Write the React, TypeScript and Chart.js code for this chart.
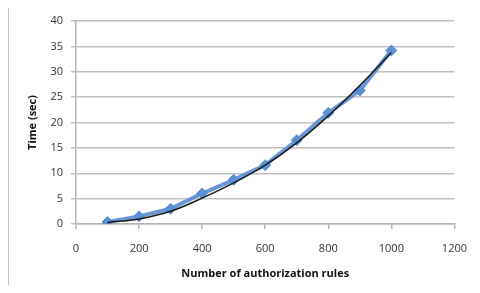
import React, { useEffect, useRef } from "react";
import { Chart, registerables } from "chart.js";

Chart.register(...registerables);

const rules = [100, 200, 300, 400, 500, 600, 700, 800, 900, 1000];
const timeSec = [0.4, 1.5, 3.0, 6.0, 8.7, 11.6, 16.5, 21.9, 26.3, 34.2];
const trendSec = [0.3, 1.0, 2.5, 5.1, 8.1, 11.6, 16.0, 21.3, 27.3, 33.8];
const xTitle = "Number of authorization rules";
const yTitle = "Time (sec)";

const framePlugin = {
  id: "frame",
  afterDraw(chart: any) {
    const ctx = chart.ctx;
    ctx.save();
    ctx.strokeStyle = "#c4c4c4";
    ctx.lineWidth = 2;
    ctx.beginPath();
    ctx.moveTo(8, 300);
    ctx.lineTo(8, 7);
    ctx.lineTo(490, 7);
    ctx.stroke();
    ctx.restore();
  },
};

export default function App() {
  const ref = useRef<HTMLCanvasElement | null>(null);
  useEffect(() => {
    if (!ref.current) return;
    const font = { family: "'Open Sans', 'Liberation Sans', sans-serif", size: 11 };
    const chart = new Chart(ref.current, {
      type: "scatter",
      data: {
        datasets: [
          {
            label: "Trend",
            data: rules.map((x, i) => ({ x, y: trendSec[i] })),
            showLine: true,
            borderColor: "#1a1a1a",
            borderWidth: 1.5,
            pointRadius: 0,
            tension: 0.4,
          },
          {
            label: "Time",
            data: rules.map((x, i) => ({ x, y: timeSec[i] })),
            showLine: true,
            borderColor: "rgba(90,140,210,0.9)",
            borderWidth: 4,
            pointStyle: "rectRot",
            pointRadius: 5.5,
            pointBackgroundColor: "#5b8fd3",
            pointBorderColor: "#5b8fd3",
            pointBorderWidth: 1,
          },
        ],
      },
      plugins: [framePlugin],
      options: {
        animation: false,
        responsive: false,
        layout: { padding: { top: 21, right: 20, left: 0, bottom: 0 } },
        plugins: { legend: { display: false }, tooltip: { enabled: false } },
        scales: {
          x: {
            type: "linear",
            min: 0,
            max: 1200,
            ticks: { stepSize: 200, color: "#333", font, padding: 13, callback: (v: any) => String(v) },
            grid: { drawOnChartArea: false, drawTicks: true, tickLength: 5, color: "#b5b5b5", lineWidth: 1.5 },
            border: { color: "#b5b5b5", width: 1.5 },
            title: {
              display: true,
              text: xTitle,
              color: "#111",
              font: { ...font, weight: "bold" },
              padding: { top: 4, bottom: 13 },
            },
            afterFit: (s: any) => {
              s.height = 69;
            },
          },
          y: {
            min: 0,
            max: 40,
            ticks: { stepSize: 5, color: "#333", font, padding: 8, callback: (v: any) => String(v) },
            grid: { color: "#c0c0c0", lineWidth: 1.5, tickLength: 5 },
            border: { color: "#b5b5b5", width: 1.5 },
            title: {
              display: true,
              text: yTitle,
              color: "#111",
              font: { ...font, weight: "bold" },
              padding: { top: 26, bottom: 4 },
            },
            afterFit: (s: any) => {
              s.width = 76;
            },
          },
        },
      },
    });
    return () => chart.destroy();
  }, []);
  return (
    <div style={{ position: "relative", width: 480, height: 293, margin: -8, background: "#fff" }}>
      <canvas ref={ref} width={480} height={293} style={{ position: "absolute", left: 0, top: 0 }} />
    </div>
  );
}
